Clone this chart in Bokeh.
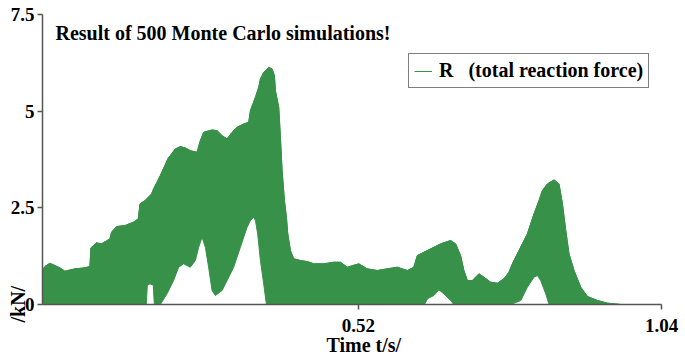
import math

from bokeh.embed import file_html
from bokeh.models import FixedTicker, Label, Legend, LegendItem, Range1d, Title
from bokeh.plotting import figure
from bokeh.resources import INLINE

# Upper envelope of the 500 simulated reaction-force histories (t in s, R in kN)
upper_t = [-0.0223, -0.0182, -0.0096, -0.0010, 0.0076, 0.0161, 0.0333, 0.0505, 0.0591,
           0.0608, 0.0704, 0.0790, 0.0935, 0.0962, 0.1048, 0.1192, 0.1335, 0.1421,
           0.1450, 0.1536, 0.1649, 0.1684, 0.1799, 0.1941, 0.1970, 0.2056, 0.2142,
           0.2228, 0.2314, 0.2429, 0.2486, 0.2543, 0.2687, 0.2773, 0.2859, 0.2945,
           0.3030, 0.3116, 0.3230, 0.3316, 0.3345, 0.3431, 0.3487, 0.3517, 0.3573,
           0.3659, 0.3718, 0.3757, 0.3774, 0.3831, 0.3860, 0.3889, 0.3929, 0.3963,
           0.3986, 0.4032, 0.4089, 0.4204, 0.4319, 0.4432, 0.4604, 0.4776, 0.4891,
           0.5006, 0.5205, 0.5350, 0.5521, 0.5693, 0.5865, 0.6037, 0.6150, 0.6209,
           0.6322, 0.6494, 0.6609, 0.6781, 0.6867, 0.6952, 0.7009, 0.7068, 0.7153,
           0.7267, 0.7353, 0.7468, 0.7583, 0.7696, 0.7782, 0.7841, 0.7926, 0.8040,
           0.8098, 0.8212, 0.8298, 0.8356, 0.8442, 0.8555, 0.8641, 0.8700, 0.8757,
           0.8813, 0.8899, 0.9014, 0.9129, 0.9301, 0.9473, 0.9702, 1.0388]
upper_f = [0.879, 0.982, 1.067, 1.008, 0.948, 0.860, 0.922, 0.948, 0.982,
           1.465, 1.594, 1.568, 1.698, 1.868, 2.016, 2.041, 2.127, 2.214,
           2.602, 2.687, 2.860, 2.990, 3.333, 3.806, 3.850, 4.023, 4.083,
           4.049, 3.979, 3.935, 4.238, 4.452, 4.514, 4.496, 4.367, 4.282,
           4.452, 4.581, 4.669, 4.711, 5.013, 5.357, 5.615, 5.832, 6.003,
           6.132, 6.090, 5.917, 5.530, 5.098, 4.323, 3.463, 2.687, 2.256,
           1.827, 1.395, 1.181, 1.137, 1.111, 1.052, 1.052, 1.093, 1.093,
           0.964, 1.052, 0.922, 0.879, 0.922, 0.964, 0.879, 0.964, 1.266,
           1.351, 1.481, 1.568, 1.654, 1.568, 1.266, 0.879, 0.620, 0.620,
           0.793, 0.705, 0.576, 0.550, 0.664, 0.835, 1.052, 1.310, 1.654,
           1.827, 2.344, 2.687, 2.946, 3.119, 3.222, 3.119, 2.602, 1.912,
           1.310, 0.879, 0.447, 0.207, 0.103, 0.034, 0.0, 0.0]

# Lower envelope of the same histories
lower_t = [-0.0223, 0.1558, 0.1576, 0.1622, 0.1678, 0.1696, 0.1799, 0.1914, 0.2027,
           0.2113, 0.2199, 0.2314, 0.2400, 0.2457, 0.2515, 0.2572, 0.2628, 0.2687,
           0.2744, 0.2859, 0.2945, 0.3058, 0.3173, 0.3288, 0.3345, 0.3402, 0.3431,
           0.3470, 0.3517, 0.3573, 0.3620, 0.6333, 0.6386, 0.6494, 0.6580, 0.6666,
           0.6781, 0.6837, 0.7812, 0.7985, 0.8098, 0.8212, 0.8270, 0.8327, 0.8413,
           0.8470, 1.0388]
lower_f = [0.0, 0.0, 0.500, 0.534, 0.500, 0.0, 0.0, 0.276, 0.620,
           0.964, 1.052, 0.964, 1.137, 1.481, 1.739, 1.481, 0.964, 0.362,
           0.233, 0.362, 0.620, 0.964, 1.481, 1.998, 2.171, 2.257, 2.171,
           1.826, 1.137, 0.534, 0.0, 0.0, 0.150, 0.233, 0.379, 0.276,
           0.103, 0.0, 0.0, 0.103, 0.447, 0.706, 0.749, 0.620, 0.276,
           0.0, 0.0]

x_ticks = [0.52, 1.04]
y_ticks = [0, 2.5, 5, 7.5]
y_tick_labels = {0: "0", 2.5: "2.5", 5: "5", 7.5: "7.5"}

GREEN = "#389149"
SERIF = "'Liberation Serif', 'Times New Roman', Times, serif"

p = figure(
    width=685, height=361,
    x_range=Range1d(-0.0223, 1.04), y_range=Range1d(0, 7.5),
    output_backend="svg", toolbar_location=None,
    min_border_left=42, min_border_right=24, min_border_top=14, min_border_bottom=57,
)
p.grid.visible = False
p.outline_line_color = None
p.background_fill_color = "white"
p.border_fill_color = "white"

# band covered by the simulation runs
band_x = upper_t + lower_t[::-1]
band_y = upper_f + lower_f[::-1]
p.patch(band_x, band_y, fill_color=GREEN, line_color=GREEN, line_width=1)
top_line = p.line(upper_t, upper_f, line_color=GREEN, line_width=1)

for ax in (p.xaxis[0], p.yaxis[0]):
    ax.axis_line_color = "#555555"
    ax.axis_line_width = 1.5
    ax.major_tick_line_color = "#555555"
    ax.major_tick_line_width = 1.5
    ax.major_tick_out = 5
    ax.major_tick_in = 0
    ax.minor_tick_line_color = None
    ax.major_label_text_font = SERIF
    ax.major_label_text_font_style = "bold"
    ax.major_label_text_font_size = "19px"
    ax.major_label_text_color = "black"

p.xaxis.ticker = FixedTicker(ticks=x_ticks)
p.xaxis.major_label_standoff = 9
p.yaxis.ticker = FixedTicker(ticks=y_ticks)
p.yaxis.major_label_overrides = y_tick_labels
p.yaxis.major_label_standoff = 3

legend = Legend(
    items=[LegendItem(label="R\u00a0\u00a0 (total reaction force)", renderers=[top_line])],
    location=(366, 216),
    border_line_color="black", border_line_width=1.5,
    background_fill_color="white", background_fill_alpha=1.0,
    label_text_font=SERIF, label_text_font_style="bold", label_text_font_size="20px",
    label_text_color="black",
    glyph_width=18, glyph_height=20, label_height=20, label_standoff=7,
    padding=5, margin=0,
)
p.add_layout(legend, "center")

# chart heading inside the frame
p.add_layout(Label(x=13, y=272, x_units="screen", y_units="screen",
                   text="Result of 500 Monte Carlo simulations!",
                   text_font=SERIF, text_font_style="bold", text_font_size="20px",
                   text_color="black", text_align="left", text_baseline="alphabetic"))

# axis captions
p.add_layout(Title(text="Time t/s/", align="left", offset=284, standoff=-2,
                   vertical_align="top", text_font=SERIF, text_font_style="bold",
                   text_font_size="20px", text_color="black"), "below")
p.add_layout(Title(text="/kN/", align="left", offset=-18, standoff=-42,
                   vertical_align="bottom", text_font=SERIF, text_font_style="bold",
                   text_font_size="20px", text_color="black"), "left")

open("out.html", "w").write(file_html(p, INLINE))
